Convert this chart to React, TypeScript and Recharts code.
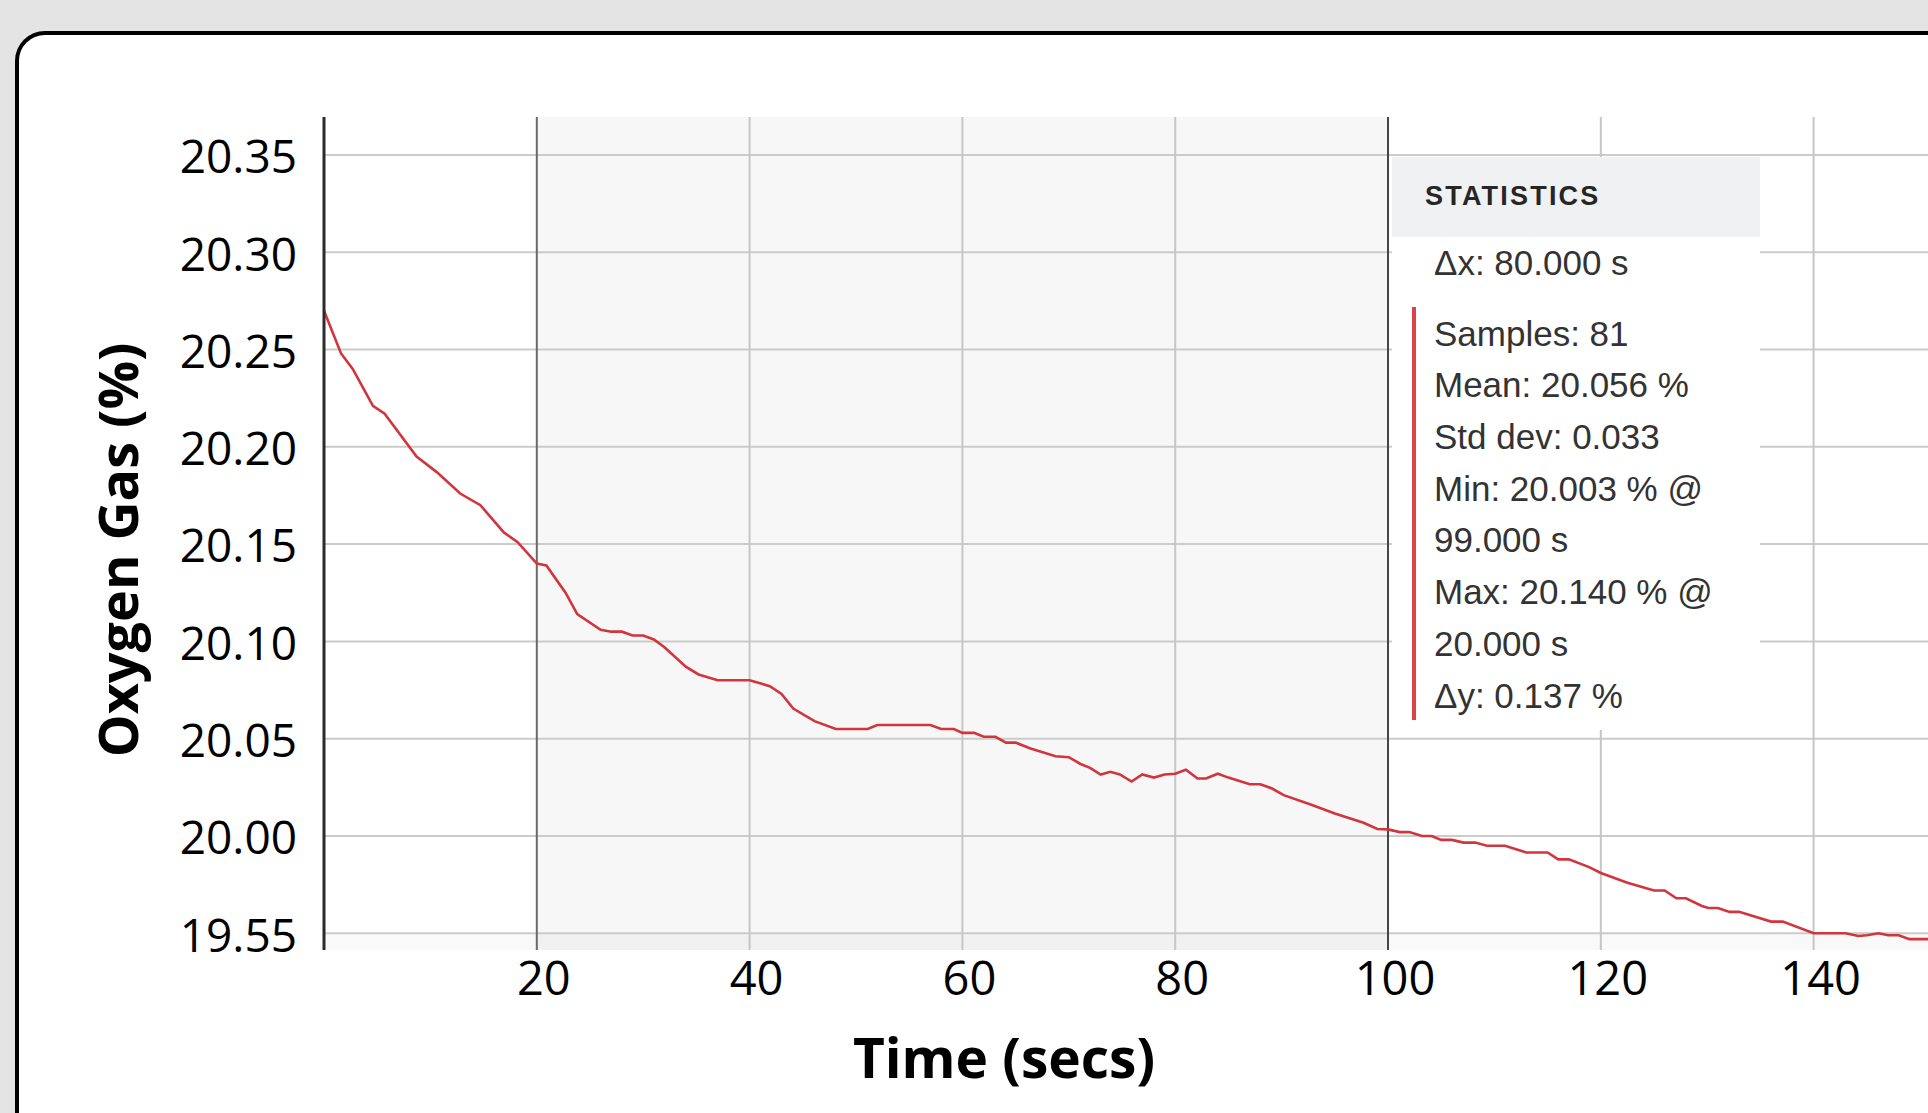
import React from 'react';
import { LineChart, Line, XAxis, YAxis, ReferenceLine, ReferenceArea, Label } from 'recharts';

// ---- data ----
const timeSecs = [
  0, 1.6, 2.7, 4.6, 5.7, 8.7, 10.6, 12.8, 14.7, 16.9, 18.2, 20, 20.9, 22.7, 23.8, 26, 27, 28, 29, 30,
  31, 32, 34, 35.2, 37, 39.6, 40, 41.9, 43, 44.1, 46.1, 48.1, 51.1, 52, 57, 58, 59.2, 60, 61.1, 62,
  63.1, 64.1, 65, 66.4, 68.75, 70, 71.1, 72, 73, 73.9, 74.8, 75.9, 76.9, 78, 79, 80, 81, 82.1, 82.9, 84,
  85, 87, 88, 89.1, 90.2, 92.8, 95, 97.7, 99, 100, 101.1, 102, 103.2, 104.1, 105, 106, 107.1, 108.2, 109.3, 111,
  113, 115, 116, 117, 118.9, 120, 122.5, 125, 126, 127.1, 128, 129.5, 130.1, 131, 132.1, 133, 136, 137.1, 140, 143,
  144.2, 145, 146.1, 147, 148, 149, 150.8,
];
const oxygenPct = [
  20.27, 20.248, 20.24, 20.221, 20.217, 20.195, 20.187, 20.176, 20.17, 20.156, 20.151, 20.14, 20.139, 20.125, 20.114, 20.106, 20.105, 20.105, 20.103, 20.103,
  20.101, 20.097, 20.087, 20.083, 20.08, 20.08, 20.08, 20.077, 20.073, 20.0655, 20.059, 20.055, 20.055, 20.057, 20.057, 20.055, 20.055, 20.053, 20.053, 20.051,
  20.051, 20.048, 20.048, 20.045, 20.041, 20.0405, 20.037, 20.035, 20.0316, 20.033, 20.0316, 20.028, 20.0316, 20.03, 20.0316, 20.032, 20.034, 20.0295, 20.0295, 20.032,
  20.03, 20.0266, 20.0266, 20.0244, 20.021, 20.016, 20.0116, 20.0068, 20.0036, 20.0034, 20.002, 20.002, 20.0, 20.0, 19.998, 19.998, 19.9966, 19.9966, 19.995, 19.995,
  19.9915, 19.9915, 19.988, 19.988, 19.984, 19.981, 19.976, 19.972, 19.972, 19.968, 19.968, 19.964, 19.963, 19.963, 19.961, 19.961, 19.956, 19.956, 19.95, 19.95,
  19.9486, 19.949, 19.95, 19.949, 19.949, 19.947, 19.947,
];
const xTicks = [20, 40, 60, 80, 100, 120, 140];
const yTicks = [19.95, 20.0, 20.05, 20.1, 20.15, 20.2, 20.25, 20.3, 20.35];
const yTickLabels = ['19.55', '20.00', '20.05', '20.10', '20.15', '20.20', '20.25', '20.30', '20.35'];
const cursorTimes = [20, 100];
const selectionRange = [20, 100];
const xTitle = 'Time (secs)';
const yTitle = 'Oxygen Gas (%)';
const statsTitle = 'STATISTICS';
const statsHeaderLine = 'Δx: 80.000 s';
const statsLines = [
  'Samples: 81',
  'Mean: 20.056 %',
  'Std dev: 0.033',
  'Min: 20.003 % @',
  '99.000 s',
  'Max: 20.140 % @',
  '20.000 s',
  'Δy: 0.137 %',
];

const data = timeSecs.map((t, i) => ({ t, o2: oxygenPct[i] }));

const X_DOMAIN: [number, number] = [0, 150.75];
const Y_DOMAIN: [number, number] = [19.9414, 20.3695];

const tickFont = 'Open Sans, "DejaVu Sans", sans-serif';

const XTick = (props: any) => {
  const { x, y, payload } = props;
  return (
    <text x={x + 7} y={y} dy="0.71em" textAnchor="middle" fontFamily={tickFont} fontSize={47} fill="#000">
      {payload.value}
    </text>
  );
};

const YTick = (props: any) => {
  const { x, y, payload } = props;
  const idx = yTicks.findIndex((v) => Math.abs(v - payload.value) < 1e-6);
  return (
    <text x={x} y={y + 2} dy="0.355em" textAnchor="end" fontFamily={tickFont} fontSize={46} fill="#000">
      {idx >= 0 ? yTickLabels[idx] : payload.value}
    </text>
  );
};

export default function App() {
  const statsFont = '"Liberation Sans", Arial, sans-serif';
  const lineCenters = [176.5, 228, 280, 331.7, 383, 435, 487, 538.6];
  return (
    <div
      style={{
        position: 'absolute',
        left: 0,
        top: 0,
        width: 1928,
        height: 1113,
        overflow: 'hidden',
        background: '#e4e4e4',
      }}
    >
      {/* card */}
      <div
        style={{
          position: 'absolute',
          left: 15,
          top: 31,
          width: 2000,
          height: 1200,
          boxSizing: 'border-box',
          border: '4px solid #000',
          borderRadius: 30,
          background: '#fff',
        }}
      />
      <div style={{ position: 'absolute', left: 0, top: 0 }}>
        <LineChart width={1928} height={1113} data={data} margin={{ top: 117, right: 0, bottom: 0, left: 0 }}>
          <ReferenceArea
            x1={selectionRange[0]}
            x2={selectionRange[1]}
            y1={Y_DOMAIN[0]}
            y2={Y_DOMAIN[1]}
            fill="#000"
            fillOpacity={0.03}
            stroke="none"
            strokeWidth={0}
            ifOverflow="hidden"
          />
          <ReferenceArea
            x1={X_DOMAIN[0]}
            x2={X_DOMAIN[1]}
            y1={Y_DOMAIN[0]}
            y2={yTicks[0]}
            fill="#000"
            fillOpacity={0.025}
            stroke="none"
            strokeWidth={0}
            ifOverflow="hidden"
          />
          {yTicks.map((v) => (
            <ReferenceLine key={'h' + v} y={v} stroke="#cbcbcb" strokeWidth={2} />
          ))}
          {xTicks
            .filter((v) => !cursorTimes.includes(v))
            .map((v) => (
              <ReferenceLine key={'v' + v} x={v} stroke="#c6c6c6" strokeWidth={2} />
            ))}
          <XAxis
            dataKey="t"
            type="number"
            domain={X_DOMAIN}
            allowDataOverflow
            ticks={xTicks}
            height={163}
            axisLine={false}
            tickLine={false}
            tickSize={6}
            tickMargin={6}
            tick={<XTick />}
            interval={0}
          >
            <Label
              content={() => (
                <text
                  x={1004}
                  y={1078}
                  textAnchor="middle"
                  fontFamily={tickFont}
                  fontWeight={700}
                  fontSize={55}
                  fill="#000"
                >
                  {xTitle}
                </text>
              )}
            />
          </XAxis>
          <YAxis
            type="number"
            domain={Y_DOMAIN}
            allowDataOverflow
            ticks={yTicks}
            width={324}
            axisLine={{ stroke: '#2b2b2b', strokeWidth: 3 }}
            tickLine={false}
            tickSize={6}
            tickMargin={21}
            tick={<YTick />}
            interval={0}
          >
            <Label
              content={() => (
                <text
                  x={138}
                  y={550}
                  transform="rotate(-90, 138, 550)"
                  textAnchor="middle"
                  fontFamily={tickFont}
                  fontWeight={700}
                  fontSize={54}
                  fill="#000"
                >
                  {yTitle}
                </text>
              )}
            />
          </YAxis>
          <ReferenceLine x={cursorTimes[0]} stroke="#6a6a6a" strokeWidth={2} />
          <ReferenceLine x={cursorTimes[1]} stroke="#454545" strokeWidth={2} />
          <Line
            type="linear"
            dataKey="o2"
            stroke="#d1353d"
            strokeWidth={2.6}
            dot={false}
            isAnimationActive={false}
          />
        </LineChart>
      </div>
      {/* statistics panel */}
      <div
        style={{
          position: 'absolute',
          left: 1392,
          top: 157,
          width: 368,
          height: 573,
          background: '#fff',
          fontFamily: statsFont,
          color: '#333',
        }}
      >
        <div
          style={{
            position: 'absolute',
            left: 0,
            top: 0,
            width: 368,
            height: 80,
            background: '#f0f1f3',
          }}
        />
        <div
          style={{
            position: 'absolute',
            left: 33,
            top: 38.5 - 20,
            height: 40,
            lineHeight: '40px',
            fontSize: 27,
            fontWeight: 700,
            letterSpacing: 2.2,
            color: '#262626',
            whiteSpace: 'nowrap',
          }}
        >
          {statsTitle}
        </div>
        <div
          style={{
            position: 'absolute',
            left: 42,
            top: 106 - 26,
            height: 52,
            lineHeight: '52px',
            fontSize: 35,
            whiteSpace: 'nowrap',
          }}
        >
          {statsHeaderLine}
        </div>
        <div
          style={{
            position: 'absolute',
            left: 20,
            top: 150,
            width: 4,
            height: 413,
            background: '#d9434b',
          }}
        />
        {statsLines.map((s, i) => (
          <div
            key={i}
            style={{
              position: 'absolute',
              left: 42,
              top: lineCenters[i] - 26,
              height: 52,
              lineHeight: '52px',
              fontSize: 35,
              whiteSpace: 'nowrap',
            }}
          >
            {s}
          </div>
        ))}
      </div>
    </div>
  );
}
